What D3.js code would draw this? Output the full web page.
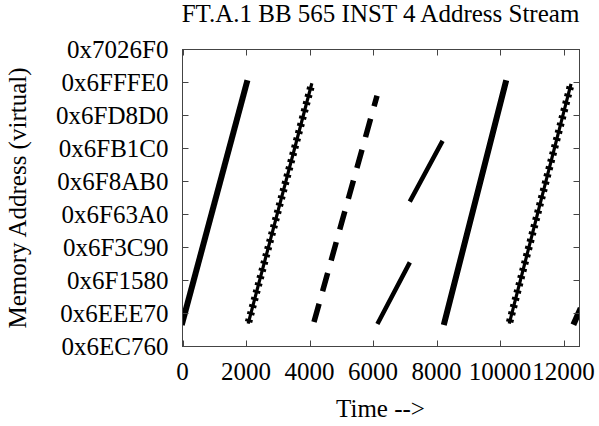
<!DOCTYPE html>
<html>
<head>
<meta charset="utf-8">
<script src="https://cdn.jsdelivr.net/npm/d3@7"></script>
<style>
  html, body { margin: 0; padding: 0; background: #fff; }
  svg { display: block; }
  text { font-family: "Liberation Serif", "Times New Roman", serif; fill: #000; }
</style>
</head>
<body>
<svg id="chart" width="599" height="426"></svg>
<script>
// ---- data ----
const chartTitle = "FT.A.1 BB 565 INST 4 Address Stream";
const xAxisLabel = "Time -->";
const yAxisLabel = "Memory Address (virtual)";
const xTicks = [0, 2000, 4000, 6000, 8000, 10000, 12000];
const yTicks = [7260000, 7270000, 7280000, 7290000, 7300000, 7310000, 7320000, 7330000, 7340000, 7350000];
// each access run: start time, end time, start address, end address
const runNames      = ["run1", "run2", "run3", "run4a", "run4b", "run5", "run6", "run7"];
const runStartTime  = [0,       2080,    4140,    6170,    7190,    8250,    10300,   12345];
const runEndTime    = [2020,    4060,    6125,    7125,    8155,    10170,   12220,   12500];
const runStartAddr  = [7267400, 7267400, 7267400, 7267400, 7304500, 7267400, 7267400, 7267400];
const runEndAddr    = [7339800, 7339300, 7336000, 7284900, 7321700, 7339800, 7339100, 7270800];

// ---- drawing ----
const svg = d3.select("#chart");
const x = d3.scaleLinear().domain([0, 12500]).range([182.5, 579.5]);
const y = d3.scaleLinear().domain([7260000, 7350000]).range([346.5, 49.5]);
const axisColor = "#444";
const fs = 25;

const style = {
  run1:  {kind: "solid", w: 6},
  run2:  {kind: "plus"},
  run3:  {kind: "dash"},
  run4a: {kind: "solid", w: 4.5},
  run4b: {kind: "solid", w: 4.5},
  run5:  {kind: "solid", w: 6},
  run6:  {kind: "plus"},
  run7:  {kind: "solid", w: 6}
};

svg.append("defs").append("clipPath").attr("id", "clip")
  .append("rect").attr("x", x(0)).attr("y", y(7350000))
  .attr("width", x(12500) - x(0)).attr("height", y(7260000) - y(7350000));

const runs = runNames.map((n, i) => ({
  name: n, t0: runStartTime[i], t1: runEndTime[i], a0: runStartAddr[i], a1: runEndAddr[i]
}));

const g = svg.append("g").attr("clip-path", "url(#clip)");
runs.forEach(r => {
  const s = style[r.name];
  const seg = () => g.append("line")
    .attr("x1", x(r.t0)).attr("y1", y(r.a0))
    .attr("x2", x(r.t1)).attr("y2", y(r.a1))
    .attr("stroke", "#000");
  if (s.kind === "solid") {
    seg().attr("stroke-width", s.w).attr("stroke-linecap", "square");
  } else if (s.kind === "plus") {
    seg().attr("stroke-width", 3.2).attr("stroke-linecap", "square");
    seg().attr("stroke-width", 7.5).attr("stroke-dasharray", "3 4.5");
  } else if (s.kind === "dash") {
    seg().attr("stroke-width", 5.5).attr("stroke-dasharray", "19 13");
  }
});

// axes box with inward ticks on all four sides
const axes = svg.append("g");
axes.append("rect").attr("x", x(0)).attr("y", y(7350000))
  .attr("width", x(12500) - x(0)).attr("height", y(7260000) - y(7350000))
  .attr("fill", "none").attr("stroke", axisColor).attr("stroke-width", 1);

const tl = 6;
xTicks.forEach(t => {
  axes.append("line").attr("x1", Math.round(x(t)) + 0.5).attr("x2", Math.round(x(t)) + 0.5)
    .attr("y1", y(7260000)).attr("y2", y(7260000) - tl).attr("stroke", axisColor);
  axes.append("line").attr("x1", Math.round(x(t)) + 0.5).attr("x2", Math.round(x(t)) + 0.5)
    .attr("y1", y(7350000)).attr("y2", y(7350000) + tl).attr("stroke", axisColor);
});
yTicks.forEach(v => {
  axes.append("line").attr("y1", y(v)).attr("y2", y(v))
    .attr("x1", x(0)).attr("x2", x(0) + tl).attr("stroke", axisColor);
  axes.append("line").attr("y1", y(v)).attr("y2", y(v))
    .attr("x1", x(12500)).attr("x2", x(12500) - tl).attr("stroke", axisColor);
});

const fmtHex = v => "0x" + v.toString(16).toUpperCase();
svg.append("g").selectAll("text").data(yTicks).join("text")
  .attr("x", x(0) - 14).attr("y", d => y(d))
  .attr("dy", "0.35em").attr("text-anchor", "end")
  .attr("font-size", fs).text(fmtHex);

svg.append("g").selectAll("text").data(xTicks).join("text")
  .attr("x", d => x(d)).attr("y", 380)
  .attr("text-anchor", "middle").attr("font-size", fs).text(d => d);

svg.append("text").attr("x", 380.5).attr("y", 22)
  .attr("text-anchor", "middle").attr("font-size", fs).text(chartTitle);

svg.append("text").attr("x", 380.5).attr("y", 417)
  .attr("text-anchor", "middle").attr("font-size", fs).text(xAxisLabel);

svg.append("text").attr("transform", "translate(26,198) rotate(-90)")
  .attr("text-anchor", "middle").attr("font-size", fs).text(yAxisLabel);
</script>
</body>
</html>
